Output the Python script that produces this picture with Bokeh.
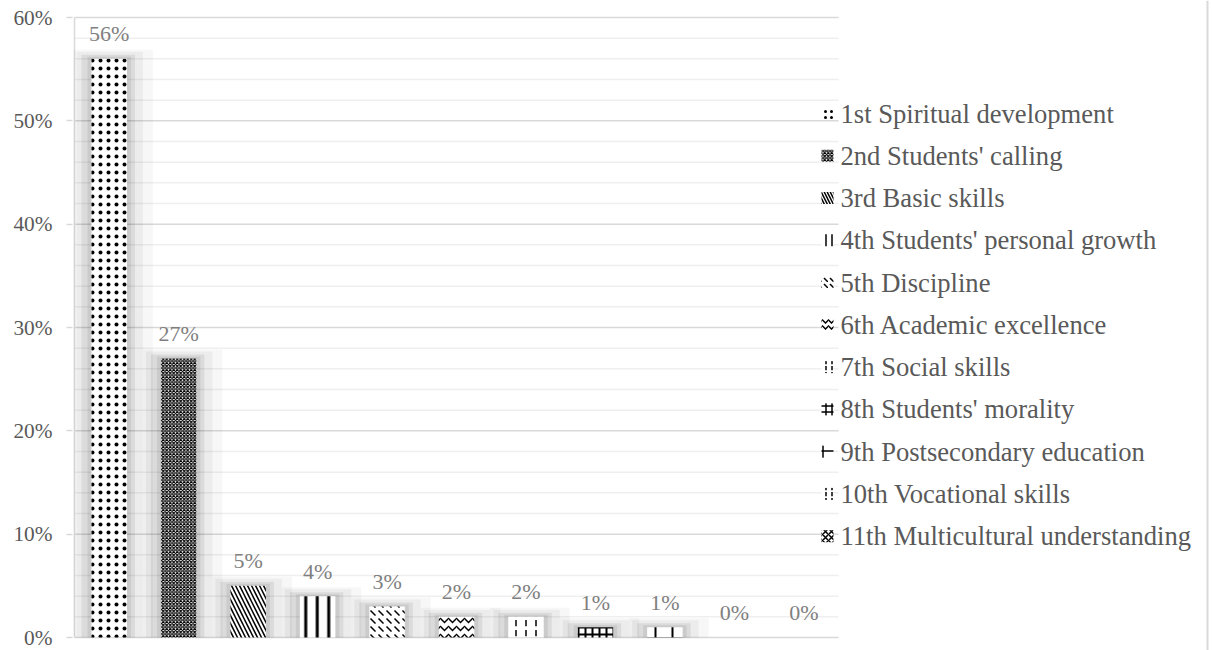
import numpy as np
from bokeh.plotting import figure
from bokeh.models import Range1d, ColumnDataSource, FixedTicker, Span
from bokeh.core.properties import value
from bokeh.embed import file_html
from bokeh.resources import INLINE

# ---------------- data ----------------
categories = ["1st Spiritual development", "2nd Students' calling", "3rd Basic skills",
              "4th Students' personal growth", "5th Discipline", "6th Academic excellence",
              "7th Social skills", "8th Students' morality", "9th Postsecondary education",
              "10th Vocational skills", "11th Multicultural understanding"]
values = [56, 27, 5, 4, 3, 2, 2, 1, 1, 0, 0]
value_labels = ["56%", "27%", "5%", "4%", "3%", "2%", "2%", "1%", "1%", "0%", "0%"]
y_major = [0, 10, 20, 30, 40, 50, 60]
y_major_labels = ["0%", "10%", "20%", "30%", "40%", "50%", "60%"]
y_minor = [2, 4, 6, 8, 12, 14, 16, 18, 22, 24, 26, 28, 32, 34, 36, 38,
           42, 44, 46, 48, 52, 54, 56, 58]

# ---------------- styles ----------------
PATTERNS = [".", "x", "\\", "|", "`", "v", ":", "+", "+", ":", "x"]
H_SCALES = [8, 3.5, 8, 11.5, 8, 8, 10, 7, 17, 6, 6]
H_WEIGHTS = [1, 1.2, 1.5, 3, 1.5, 1.5, 1.5, 2, 2, 1.5, 1.5]
LEG_SCALES = [6, 3.5, 6, 6, 6, 6, 6, 6, 12, 6, 6]
FONT = "Liberation Serif"

W, H = 1212, 650
FRAME_LEFT = 72      # px
X0_PX = 74           # px of category edge 0
CAT_PX = 69.46       # px per category
Y0_PX = 637          # px of 0 %
PCT_PX = 620 / 60    # px per percent point
BAR_W = 35.5 / CAT_PX


def xd(px):
    return (px - X0_PX) / CAT_PX


def yd(py):
    return (Y0_PX - py) / PCT_PX


n = len(categories)
xs = np.arange(n) + 0.5
vals = np.array(values, dtype=float)

p = figure(width=W, height=H,
           x_range=Range1d(xd(FRAME_LEFT), xd(W)),
           y_range=Range1d(yd(H), yd(0)),
           x_axis_location=None,
           min_border_left=FRAME_LEFT, min_border_right=0,
           min_border_top=0, min_border_bottom=0,
           toolbar_location=None, output_backend="svg")
p.outline_line_color = None
p.grid.visible = False
p.background_fill_color = "white"
p.border_fill_color = "white"

ax = p.yaxis[0]
ax.ticker = FixedTicker(ticks=y_major)
ax.major_label_overrides = {t: l for t, l in zip(y_major, y_major_labels)}
ax.axis_line_color = None
ax.major_tick_line_color = "#d9d9d9"
ax.major_tick_line_width = 1.5
ax.major_tick_out = 6
ax.major_tick_in = 0
ax.minor_tick_line_color = None
ax.major_label_standoff = 14
ax.major_label_text_font = FONT
ax.major_label_text_font_size = "21.3px"
ax.major_label_text_color = "#595959"

# grid lines
p.segment(x0=0, x1=n, y0=y_minor, y1=y_minor, line_color="#efefef", line_width=1.5)
p.segment(x0=0, x1=n, y0=y_major, y1=y_major, line_color="#d9d9d9", line_width=1.5)
p.segment(x0=0, x1=0, y0=0, y1=y_major[-1], line_color="#d9d9d9", line_width=1.5)

# soft shadows
has = vals > 0
for dl, dr, dt, a in [(18, 26, 9, 0.03), (15, 16, 7, 0.045), (10, 8, 4, 0.07), (4, 4, 2, 0.07)]:
    left = xs - BAR_W / 2 - dl / CAT_PX
    right = xs + BAR_W / 2 + dr / CAT_PX
    top = np.where(has, vals + dt / PCT_PX, 0)
    p.quad(left=left, right=right, bottom=0, top=top, fill_color="black",
           fill_alpha=a, line_color=None)

src = ColumnDataSource(dict(x=xs, top=vals, pat=PATTERNS, sc=H_SCALES, hw=H_WEIGHTS,
                            lab=value_labels))
p.vbar(x="x", top="top", width=BAR_W, bottom=0, source=src, fill_color="white",
       line_color=None, hatch_pattern="pat", hatch_scale="sc", hatch_weight="hw",
       hatch_color="black")

p.text(x="x", y="top", text="lab", source=src, text_align="center",
       text_baseline="middle", y_offset=-25, text_font=value(FONT),
       text_font_size="22px", text_color="#7f7f7f")

# legend (drawn manually)
LEG_C0 = 113
LEG_STEP = 42.27
center_px = LEG_C0 + LEG_STEP * np.arange(n)
leg_src = ColumnDataSource(dict(gx=[xd(827)] * n, gy=yd(center_px),
                                tx=[xd(840)] * n, ty=yd(center_px),
                                lab=categories, pat=PATTERNS,
                                sc=LEG_SCALES,
                                hw=[min(w, 1.5) for w in H_WEIGHTS]))
p.rect(x="gx", y="gy", width=12, height=12, width_units="screen", height_units="screen",
       source=leg_src, fill_color="white", line_color=None, hatch_pattern="pat",
       hatch_scale="sc", hatch_weight="hw", hatch_color="black")
p.text(x="tx", y="ty", text="lab", source=leg_src, text_align="left",
       text_baseline="middle", text_font=value(FONT), text_font_size="26.6px",
       text_color="#595959")

p.add_layout(Span(location=xd(1207), dimension="height", line_color="#d9d9d9", line_width=2))

open("out.html", "w").write(file_html(p, INLINE))
